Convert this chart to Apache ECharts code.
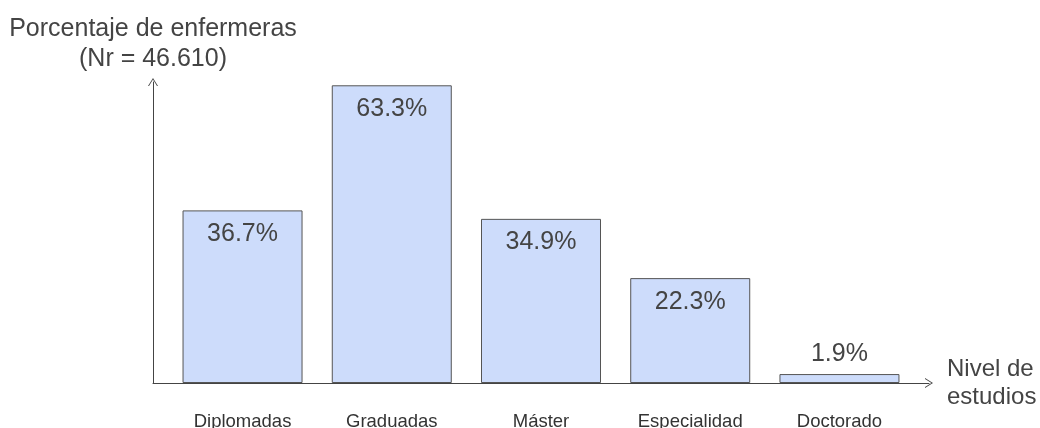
<!DOCTYPE html>
<html>
<head>
<meta charset="utf-8">
<script src="https://cdn.jsdelivr.net/npm/echarts@6/dist/echarts.min.js"></script>
<style>
html,body{margin:0;padding:0;background:#fff;}
#chart{width:1040px;height:428px;}
</style>
</head>
<body>
<div id="chart"></div>
<script>
var categories = ['Diplomadas', 'Graduadas', 'Máster', 'Especialidad', 'Doctorado'];
var values = [36.7, 63.3, 34.9, 22.3, 1.9];
var yAxisTitle = 'Porcentaje de enfermeras\n(Nr = 46.610)';
var xAxisTitle = 'Nivel de\nestudios';

var FONT = '"Liberation Sans", Arial, sans-serif';
var chev = 'path://M5,0 L10,8 L9,8 L5,1.6 L1,8 L0,8 Z';

var chart = echarts.init(document.getElementById('chart'), null, {renderer: 'canvas'});

var barData = values.map(function (v, i) {
  return {
    value: [i, v],
    label: v < 5 ? {position: 'top', distance: 7} : {position: 'insideTop', distance: 11}
  };
});

chart.setOption({
  animation: false,
  backgroundColor: '#ffffff',
  grid: {left: 153, right: 111, top: 82, bottom: 45, containLabel: false, outerBoundsMode: 'none'},
  xAxis: {
    type: 'value',
    min: -0.6,
    max: 4.6,
    name: xAxisTitle,
    nameLocation: 'end',
    nameGap: 18,
    nameTextStyle: {fontFamily: FONT, fontSize: 24, color: '#444', lineHeight: 28, align: 'left', verticalAlign: 'middle', padding: [4, 0, 0, 0]},
    axisLine: {show: true, onZero: false, lineStyle: {color: '#444', width: 1}, symbol: ['none', chev], symbolSize: [12, 8]},
    axisTick: {show: false},
    splitLine: {show: false},
    axisLabel: {
      customValues: [0, 1, 2, 3, 4],
      margin: 29,
      fontFamily: FONT,
      fontSize: 18.5,
      color: '#333',
      formatter: function (v) { return categories[Math.round(v)] || ''; }
    }
  },
  yAxis: {
    type: 'value',
    min: 0,
    max: 64,
    name: yAxisTitle,
    nameLocation: 'end',
    nameGap: 8,
    nameTextStyle: {fontFamily: FONT, fontSize: 25, color: '#444', lineHeight: 30, align: 'center', verticalAlign: 'bottom'},
    axisLine: {show: true, onZero: false, lineStyle: {color: '#444', width: 1}, symbol: ['none', chev], symbolSize: [12, 8]},
    axisTick: {show: false},
    axisLabel: {show: false},
    splitLine: {show: false}
  },
  series: [{
    type: 'bar',
    barWidth: 120,
    data: barData,
    itemStyle: {color: '#cddcfb', borderColor: '#555', borderWidth: 1},
    label: {
      show: true,
      fontFamily: FONT,
      fontSize: 25,
      color: '#444',
      formatter: function (p) { return p.value[1].toFixed(1) + '%'; }
    }
  }]
});
</script>
</body>
</html>
